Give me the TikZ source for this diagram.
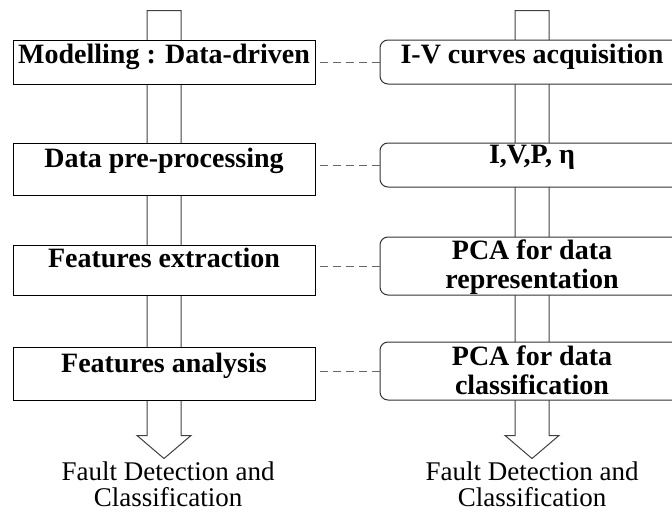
\documentclass[tikz,border=0pt]{standalone}
\usepackage{fontspec}
\setmainfont{Liberation Serif}
\usepackage{tikz}
\usetikzlibrary{backgrounds}

\tikzset{
  stage/.style={draw, fill=white, line width=1pt, inner sep=0pt, minimum width=302pt,
    anchor=base, font=\bfseries\fontsize{28}{28.5}\selectfont},
  pcastage/.style={stage, draw=black!80, rounded corners=8pt, minimum width=304pt, align=center},
  link/.style={draw=black!60, line width=1pt, dash pattern=on 8pt off 5pt},
  shaft/.style={draw=black!75, line width=1pt},
  outtxt/.style={anchor=base, align=center, font=\fontsize{27}{26}\selectfont}
}

\begin{document}
\begin{tikzpicture}[x=1pt, y=-1pt]
        \path[use as bounding box, clip] (0,0) rectangle (672,514);

        % Data-driven steps
        \node[stage, text height=23pt, text depth=21pt] (model) at (164,63) {Modelling : Data-driven};
        \node[stage, text height=24pt, text depth=28pt] (prep) at (164,167) {Data pre-processing};
        \node[stage, text height=22pt, text depth=28pt] (extract) at (164,267) {Features extraction};
        \node[stage, text height=25pt, text depth=28pt] (analysis) at (164,372) {Features analysis};
        \node[outtxt] (outleft) at (168,506) {Fault Detection and\\Classification};

        % PCA based steps
        \node[pcastage, text height=23pt, text depth=21pt] (curves) at (532,63) {I-V curves acquisition};
        \node[pcastage, text height=20pt, text depth=24pt] (ivp) at (532,163) {I,V,P, η};
        \node[pcastage, text height=51pt, text depth=7pt] (pcarep) at (532,288) {PCA for data\\representation};
        \node[pcastage, text height=52pt, text depth=6pt] (pcaclass) at (532,394) {PCA for data\\classification};
        \node[outtxt] (outright) at (532,506) {Fault Detection and\\Classification};

        % Dashed links
        \draw[link] (curves.west) -- (curves.west -| model.east);
        \draw[link] (ivp.west) -- (ivp.west -| prep.east);
        \draw[link] (pcarep.west) -- (pcarep.west -| extract.east);
        \draw[link] (pcaclass.west) -- (pcaclass.west -| analysis.east);

        % Block arrows behind the boxes
        \begin{scope}[on background layer]
        \draw[shaft] ([xshift=-17pt]model.north) ++(0,-29) -- ++(34,0) -- ([xshift=17pt]analysis.south)
            -- ++(0,35) -- ++(10,0) -- ++(-27,23) -- ++(-27,-23) -- ++(10,0) -- cycle;
        \draw[shaft] ([xshift=-17pt]curves.north) ++(0,-29) -- ++(34,0) -- ([xshift=17pt]pcaclass.south)
            -- ++(0,35) -- ++(10,0) -- ++(-27,23) -- ++(-27,-23) -- ++(10,0) -- cycle;
        \end{scope}
    \end{tikzpicture}
\end{document}
